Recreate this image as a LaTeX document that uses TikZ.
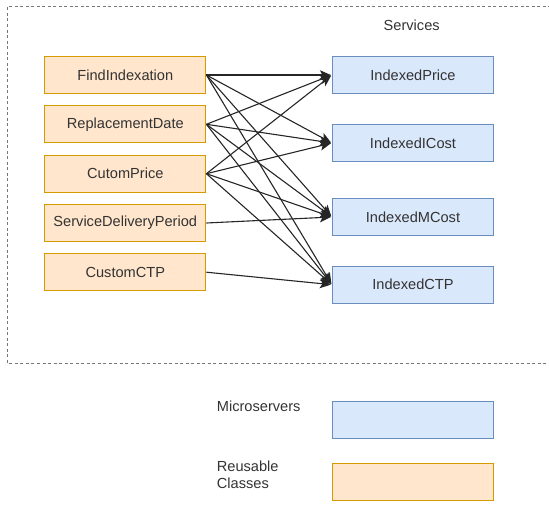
\documentclass[tikz,border=0pt]{standalone}
\usepackage{fontspec}
\setmainfont{Liberation Sans}
\usetikzlibrary{arrows.meta}
\definecolor{clsfill}{HTML}{FFE6CC}
\definecolor{clsline}{HTML}{D79B00}
\definecolor{svcfill}{HTML}{DAE8FC}
\definecolor{svcline}{HTML}{6C8EBF}
\definecolor{txt}{HTML}{333333}
\definecolor{frame}{HTML}{777777}
\tikzset{
  base/.style={font=\fontsize{14.6}{17}\selectfont, text=txt},
  box/.style={base, draw, line width=1.2pt, minimum width=161pt, minimum height=37pt, inner sep=0pt},
  cls/.style={box, fill=clsfill, draw=clsline},
  svc/.style={box, fill=svcfill, draw=svcline},
  lbl/.style={base, inner sep=0pt, anchor=base west, align=left},
  link/.style={draw=black!85, line width=1.1pt, shorten >=1pt, -{Stealth[length=11pt, width=9.5pt, inset=2.5pt]}},
}
\begin{document}
\begin{tikzpicture}[x=1pt, y=-1pt]
\useasboundingbox (0,0) rectangle (549,506);

% dashed service area (its right side runs off the page)
\coordinate (fr1) at (551,6.5);
\coordinate (fr2) at (7.5,6.5);
\coordinate (fr3) at (7.5,363);
\coordinate (fr4) at (551,363);
\draw[frame, line width=1pt, dash pattern=on 3pt off 2.5pt] (fr1) -- (fr2) -- (fr3) -- (fr4);

\node[base, anchor=base] (title) at (411.7,30) {Services};

% reusable classes
\node[cls] (find) at (125.3,75) {FindIndexation};
\node[cls] (repl) at (125.3,124.3) {ReplacementDate};
\node[cls] (cprice) at (125.3,173.7) {CutomPrice};
\node[cls] (sdp) at (125.3,223) {ServiceDeliveryPeriod};
\node[cls] (cctp) at (125.3,272.2) {CustomCTP};

% microservices
\node[svc] (iprice) at (413,75) {IndexedPrice};
\node[svc] (icost) at (413,143) {IndexedICost};
\node[svc] (mcost) at (413,217) {IndexedMCost};
\node[svc] (ictp) at (413,284.7) {IndexedCTP};

% dependencies
\foreach \s in {find,repl,cprice}
  \foreach \t in {iprice,icost,mcost,ictp}
    \draw[link] (\s.east) -- (\t.west);
\draw[link] (sdp.east) -- (mcost.west);
\draw[link] (cctp.east) -- (ictp.west);

% legend
\node[lbl] (lgsvc) at (216.7,411.7) {Microservers};
\node[svc] (lgsvcbox) at (413,420) {};
\node[lbl, anchor=north west] (lgcls) at (216.7,460.5) {Reusable\\Classes};
\node[cls] (lgclsbox) at (413,482) {};
\end{tikzpicture}
\end{document}
